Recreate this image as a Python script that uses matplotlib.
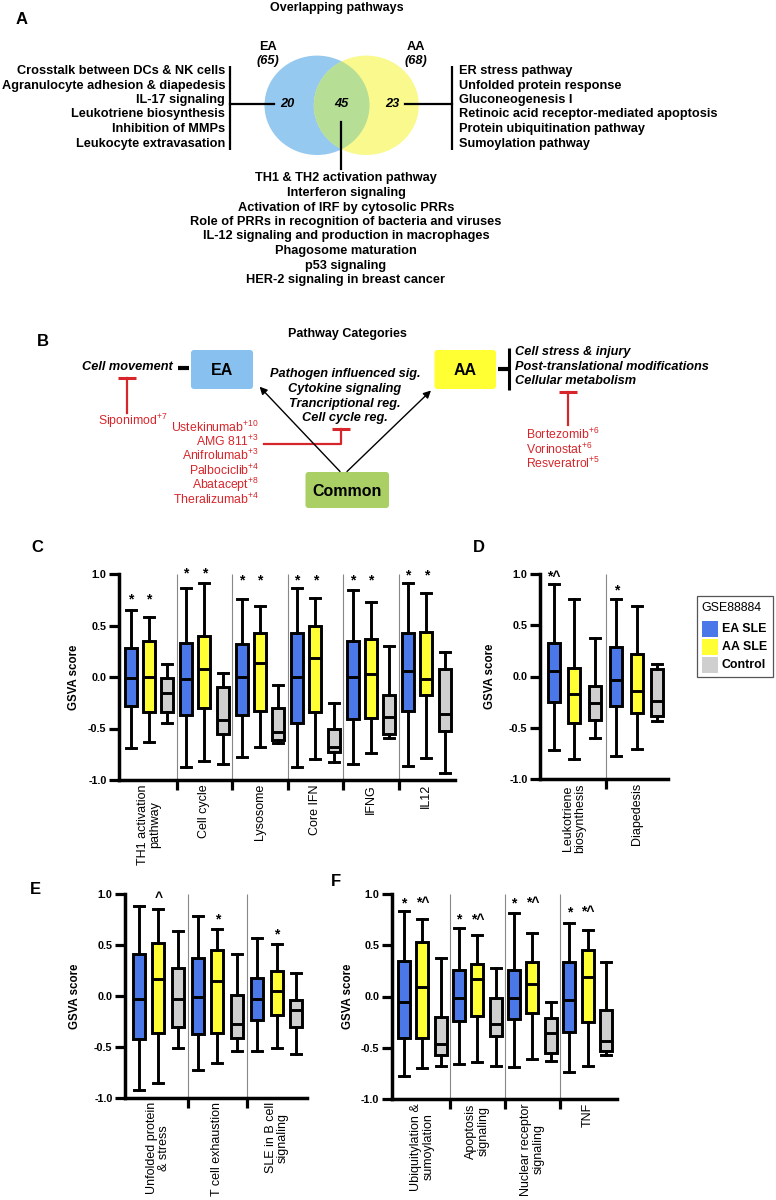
import matplotlib
matplotlib.use('Agg')
import matplotlib.pyplot as plt
from matplotlib import font_manager as fm
from matplotlib.patches import Ellipse, FancyBboxPatch, Rectangle

# ---------------- fonts ----------------
_names = {f.name for f in fm.fontManager.ttflist}
SANS = 'Liberation Sans' if 'Liberation Sans' in _names else 'DejaVu Sans'
NARROW = 'Liberation Sans Narrow' if 'Liberation Sans Narrow' in _names else SANS
plt.rcParams['font.family'] = [SANS, 'DejaVu Sans']
plt.rcParams['mathtext.fontset'] = 'custom'
plt.rcParams['mathtext.rm'] = NARROW
plt.rcParams['mathtext.it'] = NARROW + ':italic'
plt.rcParams['mathtext.bf'] = NARROW + ':bold'

# ---------------- data: panel A ----------------
venn_title = 'Overlapping pathways'
ea_label, aa_label = 'EA', 'AA'
ea_total, aa_total = 65, 68
ea_only, shared, aa_only = 20, 45, 23
ea_pathways = ['Crosstalk between DCs & NK cells', 'Agranulocyte adhesion & diapedesis',
               'IL-17 signaling', 'Leukotriene biosynthesis', 'Inhibition of MMPs',
               'Leukocyte extravasation']
aa_pathways = ['ER stress pathway', 'Unfolded protein response', 'Gluconeogenesis I',
               'Retinoic acid receptor-mediated apoptosis', 'Protein ubiquitination pathway',
               'Sumoylation pathway']
shared_pathways = ['TH1 & TH2 activation pathway', 'Interferon signaling',
                   'Activation of IRF by cytosolic PRRs',
                   'Role of PRRs in recognition of bacteria and viruses',
                   'IL-12 signaling and production in macrophages', 'Phagosome maturation',
                   'p53 signaling', 'HER-2 signaling in breast cancer']

# ---------------- data: panel B ----------------
cat_title = 'Pathway Categories'
ea_categories = ['Cell movement']
aa_categories = ['Cell stress & injury', 'Post-translational modifications', 'Cellular metabolism']
common_categories = ['Pathogen influenced sig.', 'Cytokine signaling', 'Trancriptional reg.',
                     'Cell cycle reg.']
ea_drugs = ['Siponimod']
ea_drug_n = [7]
common_drugs = ['Ustekinumab', 'AMG 811', 'Anifrolumab', 'Palbociclib', 'Abatacept', 'Theralizumab']
common_drug_n = [10, 3, 3, 4, 8, 4]
aa_drugs = ['Bortezomib', 'Vorinostat', 'Resveratrol']
aa_drug_n = [6, 6, 5]

# ---------------- data: box plots (whislo, q1, median, q3, whishi) ----------------
cohorts = ['EA SLE', 'AA SLE', 'Control']
legend_title = 'GSE88884'

c_groups = ['TH1 activation\npathway', 'Cell cycle', 'Lysosome', 'Core IFN', 'IFNG', 'IL12']
c_ea = [(-0.69, -0.28, -0.01, 0.28, 0.65), (-0.87, -0.37, -0.02, 0.33, 0.86),
        (-0.78, -0.37, 0.00, 0.32, 0.76), (-0.87, -0.45, 0.00, 0.43, 0.86),
        (-0.84, -0.41, 0.00, 0.35, 0.84), (-0.86, -0.33, 0.06, 0.43, 0.91)]
c_aa = [(-0.63, -0.34, 0.00, 0.35, 0.58), (-0.82, -0.30, 0.08, 0.40, 0.91),
        (-0.68, -0.33, 0.14, 0.43, 0.69), (-0.80, -0.34, 0.18, 0.50, 0.77),
        (-0.74, -0.40, 0.03, 0.37, 0.73), (-0.79, -0.17, -0.02, 0.44, 0.82)]
c_ctrl = [(-0.45, -0.34, -0.16, -0.01, 0.13), (-0.84, -0.55, -0.42, -0.10, 0.04),
          (-0.64, -0.61, -0.53, -0.30, -0.08), (-0.83, -0.73, -0.68, -0.50, -0.25),
          (-0.59, -0.55, -0.39, -0.17, 0.30), (-0.93, -0.52, -0.36, 0.08, 0.24)]
c_marks = [(0, 0, '*', 0.75), (0, 1, '*', 0.75), (1, 0, '*', 1.01), (1, 1, '*', 1.01),
           (2, 0, '*', 0.94), (2, 1, '*', 0.94), (3, 0, '*', 0.94), (3, 1, '*', 0.94),
           (4, 0, '*', 0.94), (4, 1, '*', 0.94), (5, 0, '*', 0.99), (5, 1, '*', 0.99)]

d_groups = ['Leukotriene\nbiosynthesis', 'Diapedesis']
d_ea = [(-0.72, -0.25, 0.05, 0.33, 0.90), (-0.78, -0.29, -0.03, 0.29, 0.76)]
d_aa = [(-0.80, -0.45, -0.17, 0.08, 0.76), (-0.71, -0.36, -0.14, 0.22, 0.69)]
d_ctrl = [(-0.60, -0.42, -0.26, -0.09, 0.38), (-0.43, -0.39, -0.24, 0.07, 0.12)]
d_marks = [(0, 0, '*^', 0.97), (1, 0, '*', 0.84)]

e_groups = ['Unfolded protein\n& stress', 'T cell exhaustion', 'SLE in B cell\nsignaling']
e_ea = [(-0.92, -0.42, -0.03, 0.41, 0.88), (-0.73, -0.37, -0.01, 0.37, 0.78),
        (-0.54, -0.24, -0.03, 0.18, 0.57)]
e_aa = [(-0.85, -0.36, 0.17, 0.52, 0.85), (-0.66, -0.36, 0.15, 0.45, 0.66),
        (-0.51, -0.19, 0.05, 0.25, 0.51)]
e_ctrl = [(-0.51, -0.30, -0.03, 0.27, 0.64), (-0.54, -0.41, -0.27, 0.01, 0.41),
          (-0.57, -0.30, -0.14, -0.04, 0.23)]
e_marks = [(0, 1, '^', 0.96), (1, 1, '*', 0.75), (2, 1, '*', 0.60)]

f_groups = ['Ubiquitylation &\nsumoylation', 'Apoptosis\nsignaling',
            'Nuclear receptor\nsignaling', 'TNF']
f_ea = [(-0.78, -0.40, -0.05, 0.35, 0.83), (-0.66, -0.24, -0.01, 0.26, 0.67),
        (-0.69, -0.22, -0.01, 0.26, 0.81), (-0.74, -0.35, -0.03, 0.34, 0.72)]
f_aa = [(-0.70, -0.40, 0.09, 0.53, 0.76), (-0.64, -0.19, 0.17, 0.32, 0.60),
        (-0.61, -0.16, 0.12, 0.34, 0.62), (-0.68, -0.25, 0.19, 0.45, 0.65)]
f_ctrl = [(-0.68, -0.57, -0.46, -0.20, 0.38), (-0.68, -0.39, -0.27, -0.01, 0.28),
          (-0.63, -0.55, -0.36, -0.21, -0.05), (-0.57, -0.53, -0.43, -0.13, 0.34)]
f_marks = [(0, 0, '*', 0.91), (0, 1, '*^', 0.91), (1, 0, '*', 0.75), (1, 1, '*^', 0.75),
           (2, 0, '*', 0.91), (2, 1, '*^', 0.91), (3, 0, '*', 0.82), (3, 1, '*^', 0.82)]

yticks = [-1.0, -0.5, 0.0, 0.5, 1.0]
ytick_labels = ['-1.0', '-0.5', '0.0', '0.5', '1.0']

# ---------------- styles ----------------
BOX_COLORS = ['#4A78E8', '#FFFF33', '#CFCFCF']
VENN_BLUE, VENN_YEL, VENN_GREEN = '#95C9F0', '#F9F98E', '#B6DE94'
B_BLUE, B_YEL, B_GREEN = '#88C1EF', '#FFFF33', '#A9CF65'
RED = '#D7262B'

W, H = 776, 1200
fig = plt.figure(figsize=(W / 100, H / 100), dpi=100)
bg = fig.add_axes([0, 0, 1, 1])
bg.set_xlim(0, W)
bg.set_ylim(H, 0)
bg.axis('off')

# ================= Panel A =================
LIST_FS = 9.2
bg.text(337, 8, venn_title, ha='center', va='center', fontsize=9.0, fontweight='bold', family=NARROW)
bg.text(22, 20, 'A', ha='center', va='center', fontsize=12, fontweight='bold')
vb = Ellipse((317, 105.3), 105, 99.4, fc=VENN_BLUE, ec='none')
vy = Ellipse((366.3, 105.3), 105, 99.4, fc=VENN_YEL, ec='none')
bg.add_patch(vb)
bg.add_patch(vy)
vg = Ellipse((317, 105.3), 105, 99.4, fc=VENN_GREEN, ec='none')
bg.add_patch(vg)
vg.set_clip_path(vy)
bg.text(267.5, 47, ea_label, ha='center', va='center', fontsize=9.2, fontweight='bold', family=NARROW)
bg.text(267.5, 61, f'({ea_total})', ha='center', va='center', fontsize=9.2, fontweight='bold',
        style='italic', family=NARROW)
bg.text(416, 47, aa_label, ha='center', va='center', fontsize=9.2, fontweight='bold', family=NARROW)
bg.text(416, 61, f'({aa_total})', ha='center', va='center', fontsize=9.2, fontweight='bold',
        style='italic', family=NARROW)
for x, v in [(287, ea_only), (341.5, shared), (392.5, aa_only)]:
    bg.text(x, 104, str(v), ha='center', va='center', fontsize=9.2, fontweight='bold',
            style='italic', family=NARROW)
for i, t in enumerate(ea_pathways):
    bg.text(225, 71 + i * 14.5, t, ha='right', va='center', fontsize=LIST_FS, fontweight='bold', family=NARROW)
for i, t in enumerate(aa_pathways):
    bg.text(459, 71 + i * 14.5, t, ha='left', va='center', fontsize=LIST_FS, fontweight='bold', family=NARROW)
for i, t in enumerate(shared_pathways):
    bg.text(346, 178.5 + i * 14.5, t, ha='center', va='center', fontsize=LIST_FS, fontweight='bold', family=NARROW)
bg.plot([230, 230], [66, 150], color='black', lw=1.6, solid_capstyle='butt')
bg.plot([230, 274], [103.7, 103.7], color='black', lw=1.6)
bg.plot([452, 452], [66, 150], color='black', lw=1.6, solid_capstyle='butt')
bg.plot([405, 452], [103.7, 103.7], color='black', lw=1.6)
bg.plot([341.4, 341.4], [122, 169], color='black', lw=1.6)

# ================= Panel B =================
bg.text(347, 334.5, cat_title, ha='center', va='center', fontsize=9.0, fontweight='bold', family=NARROW)
bg.text(43, 342, 'B', ha='center', va='center', fontsize=12, fontweight='bold')
for (x0, y0, w, h, c, lab) in [(191, 350, 62, 39, B_BLUE, 'EA'), (434.5, 350, 61.5, 39, B_YEL, 'AA'),
                               (305.5, 472, 83.5, 36, B_GREEN, 'Common')]:
    bg.add_patch(FancyBboxPatch((x0, y0), w, h, boxstyle='round,pad=0,rounding_size=3',
                                fc=c, ec='none'))
    bg.text(x0 + w / 2, y0 + h / 2 + 1, lab, ha='center', va='center', fontsize=11.5,
            fontweight='bold')
CAT_FS = 9.2
bg.text(172.5, 367.5, ea_categories[0], ha='right', va='center', fontsize=CAT_FS, fontweight='bold',
        style='italic', family=NARROW)
bg.plot([178, 189], [367.5, 367.5], color='black', lw=3, solid_capstyle='butt')
bg.plot([497.5, 508], [369, 369], color='black', lw=3, solid_capstyle='butt')
bg.plot([509, 509], [347.5, 390], color='black', lw=2.2, solid_capstyle='butt')
for i, t in enumerate(aa_categories):
    bg.text(515, 352.5 + i * 14.5, t, ha='left', va='center', fontsize=CAT_FS, fontweight='bold',
            style='italic', family=NARROW)
for i, t in enumerate(common_categories):
    bg.text(345, 374.5 + i * 14.5, t, ha='center', va='center', fontsize=CAT_FS, fontweight='bold',
            style='italic', family=NARROW)
for start, end in [((340, 471.5), (259.6, 386.7)), ((347, 471.5), (431, 390.5))]:
    bg.annotate('', xy=end, xytext=start,
                arrowprops=dict(arrowstyle='-|>', color='black', lw=1.0, mutation_scale=11,
                                shrinkA=0, shrinkB=0))
# inhibition bars
bg.plot([118, 136], [377.7, 377.7], color=RED, lw=2.2, solid_capstyle='butt')
bg.plot([127, 127], [377.7, 413], color=RED, lw=1.6)
bg.plot([331.5, 350], [429, 429], color=RED, lw=2.2, solid_capstyle='butt')
bg.plot([341.4, 341.4, 263.5], [429, 444, 444], color=RED, lw=1.6)
bg.plot([559, 577], [391.7, 391.7], color=RED, lw=2.2, solid_capstyle='butt')
bg.plot([568, 568], [391.7, 425], color=RED, lw=1.6)


def drug(name, n):
    return name + r'$^{\mathrm{+' + str(n) + '}}$'


DRUG_FS = 8.8
bg.text(133, 421, drug(ea_drugs[0], ea_drug_n[0]), ha='center', va='center', fontsize=DRUG_FS,
        color=RED, family=NARROW)
for i, (d, n) in enumerate(zip(common_drugs, common_drug_n)):
    bg.text(259, 427 + i * 14.4, drug(d, n), ha='right', va='center', fontsize=DRUG_FS, color=RED,
            family=NARROW)
for i, (d, n) in enumerate(zip(aa_drugs, aa_drug_n)):
    bg.text(526, 434.5 + i * 14.4, drug(d, n), ha='left', va='center', fontsize=DRUG_FS, color=RED,
            family=NARROW)


# ================= Box plot panels =================
def box_panel(rect, groups, data, marks, gap, xlim, ylab_x, letter):
    x0, y0, x1, y1 = rect
    ax = fig.add_axes([x0 / W, 1 - y1 / H, (x1 - x0) / W, (y1 - y0) / H])
    ax.patch.set_alpha(0)
    ppu = (x1 - x0) / (xlim[1] - xlim[0])
    stats, pos, cols = [], [], []
    for g in range(len(groups)):
        for i, series in enumerate(data):
            lo, q1, med, q3, hi = series[g]
            stats.append(dict(med=med, q1=q1, q3=q3, whislo=lo, whishi=hi, fliers=[]))
            pos.append(g * gap + i)
            cols.append(BOX_COLORS[i])
    lw = 2.1
    b = ax.bxp(stats, positions=pos, widths=12 / ppu, capwidths=10 / ppu, patch_artist=True,
               showfliers=False,
               boxprops=dict(lw=lw, edgecolor='black'),
               whiskerprops=dict(lw=lw, color='black'),
               capprops=dict(lw=lw, color='black'),
               medianprops=dict(lw=lw, color='black'))
    for p, c in zip(b['boxes'], cols):
        p.set_facecolor(c)
    seps = [(g * gap + 2 + (g + 1) * gap) / 2 for g in range(len(groups) - 1)]
    ax.vlines(seps, -1, 1.0, color='#888888', lw=0.8, zorder=0)
    ax.set_xlim(*xlim)
    ax.set_ylim(-1.0, 1.0)
    ax.set_xticks(seps)
    ax.set_xticklabels([])
    ax.set_yticks(yticks)
    ax.set_yticklabels(ytick_labels, fontsize=7.8, fontweight='bold')
    ax.tick_params(axis='x', direction='out', length=7.5, width=2.3, color='black')
    ax.tick_params(axis='y', direction='out', length=7.5, width=2.3, pad=1.5)
    for s in ['top', 'right']:
        ax.spines[s].set_visible(False)
    for s in ['left', 'bottom']:
        ax.spines[s].set_linewidth(2.5)
    ax.set_ylabel('GSVA score', fontsize=8.3, fontweight='bold')
    ax.yaxis.set_label_coords(ylab_x, 0.5)
    for g, name in enumerate(groups):
        ax.annotate(name, xy=(g * gap + 1, 0), xycoords=('data', 'axes fraction'),
                    xytext=(0, -3), textcoords='offset points', rotation=90, ha='center',
                    va='top', multialignment='center', fontsize=9, linespacing=1.0)
    for g, i, t, y in marks:
        ax.text(g * gap + i, y, t, ha='center', va='center', fontsize=10, fontweight='bold',
                clip_on=False)
    bg.text(letter[1], letter[2], letter[0], ha='center', va='center', fontsize=12,
            fontweight='bold')
    return ax


box_panel((119, 574, 455, 780), c_groups, (c_ea, c_aa, c_ctrl), c_marks, 3.03, (-0.64, 17.72),
          -0.116, ('C', 37, 548))
box_panel((540, 574, 668, 779), d_groups, (d_ea, d_aa, d_ctrl), d_marks, 3.06, (-0.69, 5.6),
          -0.344, ('D', 479, 548))
box_panel((125, 894, 307, 1098), e_groups, (e_ea, e_aa, e_ctrl), e_marks, 3.06, (-0.725, 8.69),
          -0.242, ('E', 35, 889))
box_panel((391.7, 894, 617.3, 1099), f_groups, (f_ea, f_aa, f_ctrl), f_marks, 3.0, (-0.67, 11.62),
          -0.169, ('F', 336, 881))

# legend
bg.add_patch(Rectangle((697, 596), 76, 81, fc='white', ec='#555555', lw=0.9))
bg.text(701, 608, legend_title, ha='left', va='center', fontsize=8.9)
for i, (lab, c) in enumerate(zip(cohorts, BOX_COLORS)):
    bg.add_patch(Rectangle((701.5, 620.5 + i * 18), 16, 16, fc=c, ec='none'))
    bg.text(721.5, 628.5 + i * 18, lab, ha='left', va='center', fontsize=8.9, fontweight='bold')

fig.savefig('out.png', dpi=100)
